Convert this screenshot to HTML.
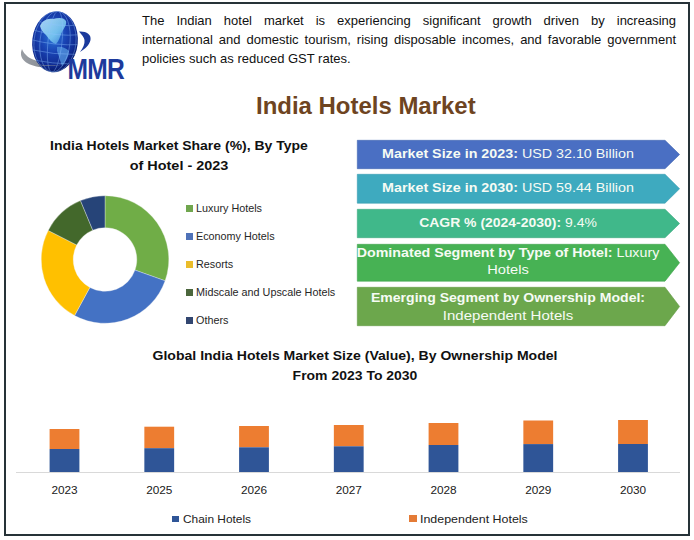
<!DOCTYPE html>
<html><head><meta charset="utf-8">
<style>
html,body{margin:0;padding:0;background:#fff;}
body{width:694px;height:540px;position:relative;overflow:hidden;font-family:"Liberation Sans",sans-serif;}
.frame{position:absolute;left:4px;top:2px;width:682px;height:530px;border:2px solid #263238;}
.t{position:absolute;white-space:nowrap;transform-origin:0 0;line-height:1;}
.c{position:absolute;white-space:nowrap;line-height:1;text-align:center;width:0;}
.c>span{display:inline-block;transform-origin:50% 0;margin-left:-500px;margin-right:-500px;width:1000px;}
.desc{position:absolute;left:142px;width:534px;font-size:13px;line-height:1;color:#111;white-space:nowrap;}
.j{text-align:justify;text-align-last:justify;white-space:normal;}
.box{position:absolute;left:357px;width:323px;}
.box svg{position:absolute;left:0;top:0;}
.bt{color:#f6fbf4;}
.leg{font-size:10.8px;color:#262626;}
.sq{position:absolute;width:7px;height:7px;}
.yr{font-size:11.8px;color:#1a1a1a;}
</style></head><body>
<div class="frame"></div>

<!-- logo -->
<svg style="position:absolute;left:0;top:0" width="140" height="90" viewBox="0 0 140 90">
  <defs>
    <radialGradient id="gl" cx="0.45" cy="0.4" r="0.62">
      <stop offset="0" stop-color="#2f7ddc"/>
      <stop offset="0.45" stop-color="#1a44b4"/>
      <stop offset="0.8" stop-color="#112c92"/>
      <stop offset="1" stop-color="#081862"/>
    </radialGradient>
    <linearGradient id="land" x1="0" y1="0" x2="1" y2="1">
      <stop offset="0" stop-color="#c6f1ff"/>
      <stop offset="0.6" stop-color="#7fcdf2"/>
      <stop offset="1" stop-color="#3f86d8"/>
    </linearGradient>
    <linearGradient id="sw" x1="0" y1="0" x2="1" y2="0">
      <stop offset="0" stop-color="#9a9ea4"/>
      <stop offset="1" stop-color="#7b8088"/>
    </linearGradient>
    <clipPath id="gc"><ellipse cx="55" cy="41.7" rx="22.8" ry="30.6" transform="rotate(6 55 41.7)"/></clipPath>
  </defs>
  <path d="M22 49 C18 58 26 66 42 67.2 C50 67.6 58 66.6 64 65.4 C54 64.6 42 63.2 33 59.6 C27 57 23.5 53 22 49 Z" fill="url(#sw)"/>
  <ellipse cx="55" cy="41.7" rx="22.8" ry="30.6" transform="rotate(6 55 41.7)" fill="url(#gl)"/>
  <g clip-path="url(#gc)">
    <path d="M40 26 C42 21 47 18 53 19 C58 18 63 17 66 21 C67 25 64 28 62 32 C60 36 59 41 56 44 C52 43 49 39 46 35 C43 32 41 30 40 26 Z" fill="url(#land)" opacity="0.85"/>
    <path d="M57 47 C61 46 66 48 69 51 C69 56 66 61 62 66 C60 61 59 56 57 51 Z" fill="#5aa0e6" opacity="0.7"/>
    <g stroke="#8ec2ff" stroke-width="0.7" fill="none" opacity="0.55" transform="rotate(6 55 41.7)">
      <ellipse cx="55" cy="41.7" rx="7" ry="30.6"/>
      <ellipse cx="55" cy="41.7" rx="15" ry="30.6"/>
      <ellipse cx="55" cy="41.7" rx="21" ry="30.6"/>
      <path d="M30 22 Q55 28 80 22 M30 32 Q55 37 80 32 M30 42 Q55 46 80 42 M30 52 Q55 55 80 52 M30 62 Q55 64 80 62"/>
    </g>
  </g>
  <path d="M36 64 C46 67 56 66 63 64.5 C56 65.5 46 66 36 64 Z" fill="#8a8e94"/>
  <path d="M79 31.5 C86 31 91.5 34 90.5 40 C89.5 45 85 49 80 52 C83 48 85 44 84.5 40 C84 37 82 35 79 31.5 Z" fill="#1b3a9c"/>
  <text x="0" y="0" font-family="Liberation Sans" font-weight="bold" font-size="30" fill="#1d3a9c" letter-spacing="-1" transform="translate(67.6 78.9) scale(0.82 1)">MMR</text>
</svg>

<!-- description -->
<div class="desc j" style="top:14px">The Indian hotel market is experiencing significant growth driven by increasing</div>
<div class="desc j" style="top:33px">international and domestic tourism, rising disposable incomes, and favorable government</div>
<div class="desc" style="top:52px">policies such as reduced GST rates.</div>

<!-- main title -->
<div class="t" style="left:256.4px;top:93.6px;font-size:24px;font-weight:bold;color:#6e4421;transform:scaleX(0.998)">India Hotels Market</div>

<!-- chart 1 title -->
<div class="c" style="left:178.7px;top:138.5px;font-size:13.5px;font-weight:bold;color:#111"><span style="transform:scaleX(1.036)">India Hotels Market Share (%), By Type</span></div>
<div class="c" style="left:178.7px;top:158.6px;font-size:13.5px;font-weight:bold;color:#111"><span style="transform:scaleX(1.07)">of Hotel - 2023</span></div>

<!-- donut -->
<svg style="position:absolute;left:0;top:0" width="200" height="340" viewBox="0 0 200 340" id="donut">
<path d="M105.00 195.70 A63.8 63.8 0 0 1 165.14 280.80 L134.98 270.12 A31.8 31.8 0 0 0 105.00 227.70 Z" fill="#70ad47" stroke="#f4f4f4" stroke-width="0.35"/>
<path d="M165.14 280.80 A63.8 63.8 0 0 1 74.56 315.57 L89.83 287.45 A31.8 31.8 0 0 0 134.98 270.12 Z" fill="#4472c4" stroke="#f4f4f4" stroke-width="0.35"/>
<path d="M74.56 315.57 A63.8 63.8 0 0 1 48.20 230.44 L76.69 245.01 A31.8 31.8 0 0 0 89.83 287.45 Z" fill="#ffc000" stroke="#f4f4f4" stroke-width="0.35"/>
<path d="M48.20 230.44 A63.8 63.8 0 0 1 80.48 200.60 L92.78 230.14 A31.8 31.8 0 0 0 76.69 245.01 Z" fill="#43682b" stroke="#f4f4f4" stroke-width="0.35"/>
<path d="M80.48 200.60 A63.8 63.8 0 0 1 105.00 195.70 L105.00 227.70 A31.8 31.8 0 0 0 92.78 230.14 Z" fill="#264478" stroke="#f4f4f4" stroke-width="0.35"/>
</svg>

<!-- legend -->
<div class="sq" style="left:186px;top:205px;background:#70a64e"></div>
<div class="t leg" style="left:196px;top:203px">Luxury Hotels</div>
<div class="sq" style="left:186px;top:233px;background:#4f72b8"></div>
<div class="t leg" style="left:196px;top:231px">Economy Hotels</div>
<div class="sq" style="left:186px;top:261px;background:#ebbd2a"></div>
<div class="t leg" style="left:196px;top:259px">Resorts</div>
<div class="sq" style="left:186px;top:289px;background:#4b663c"></div>
<div class="t leg" style="left:196px;top:287px">Midscale and Upscale Hotels</div>
<div class="sq" style="left:186px;top:317px;background:#324670"></div>
<div class="t leg" style="left:196px;top:315px">Others</div>

<!-- arrow boxes -->
<svg style="position:absolute;left:0;top:0" width="694" height="340" viewBox="0 0 694 340">
  <path d="M357.3 140.3 H665 L679.6 154.5 L665 168.7 H357.3 Z" fill="#4a6fc3" stroke="#4264b0" stroke-width="0.6"/>
  <path d="M357.3 174.3 H665 L679.6 188.75 L665 203.2 H357.3 Z" fill="#3eaabf" stroke="#379cb0" stroke-width="0.6"/>
  <path d="M357.3 209.3 H665 L679.6 223.5 L665 237.7 H357.3 Z" fill="#40b88a" stroke="#3aa87e" stroke-width="0.6"/>
  <path d="M357.3 244.3 H665 L679.6 262.75 L665 281.2 H357.3 Z" fill="#47b254" stroke="#40a34c" stroke-width="0.6"/>
  <path d="M357.3 287.3 H665 L679.6 306.5 L665 325.7 H357.3 Z" fill="#6ca74c" stroke="#639a45" stroke-width="0.6"/>
</svg>
<div class="c bt" style="left:508px;top:147px;font-size:13.3px"><span style="transform:scaleX(1.075)"><b>Market Size in 2023:</b> USD 32.10 Billion</span></div>
<div class="c bt" style="left:508px;top:181px;font-size:13.3px"><span style="transform:scaleX(1.075)"><b>Market Size in 2030:</b> USD 59.44 Billion</span></div>
<div class="c bt" style="left:508px;top:216px;font-size:13.3px"><span style="transform:scaleX(1.05)"><b>CAGR % (2024-2030):</b> 9.4%</span></div>
<div class="c bt" style="left:508px;top:246px;font-size:13.3px"><span style="transform:scaleX(1.07)"><b>Dominated Segment by Type of Hotel:</b> Luxury</span></div>
<div class="c bt" style="left:508px;top:263px;font-size:13.3px"><span style="transform:scaleX(1.1)">Hotels</span></div>
<div class="c bt" style="left:508px;top:290.7px;font-size:13.3px"><span style="transform:scaleX(1.057)"><b>Emerging Segment by Ownership Model:</b></span></div>
<div class="c bt" style="left:508px;top:308.7px;font-size:13.3px"><span style="transform:scaleX(1.13)">Independent Hotels</span></div>

<!-- bar chart title -->
<div class="c" style="left:355px;top:348.8px;font-size:13.5px;font-weight:bold;color:#111"><span style="transform:scaleX(1.04)">Global India Hotels Market Size (Value), By Ownership Model</span></div>
<div class="c" style="left:355px;top:369.4px;font-size:13.5px;font-weight:bold;color:#111"><span style="transform:scaleX(1.035)">From 2023 To 2030</span></div>

<!-- bars -->
<svg style="position:absolute;left:0;top:0" width="694" height="540" viewBox="0 0 694 540">
  <line x1="16" y1="472.5" x2="680" y2="472.5" stroke="#d9d9d9" stroke-width="1"/>
  <rect x="49.60" y="429" width="29.8" height="20.00" fill="#ed7d31"/><rect x="49.60" y="449" width="29.8" height="23.00" fill="#2f5597"/>
  <rect x="144.35" y="426.7" width="29.8" height="21.50" fill="#ed7d31"/><rect x="144.35" y="448.2" width="29.8" height="23.80" fill="#2f5597"/>
  <rect x="239.10" y="426" width="29.8" height="21.30" fill="#ed7d31"/><rect x="239.10" y="447.3" width="29.8" height="24.70" fill="#2f5597"/>
  <rect x="333.85" y="425" width="29.8" height="21.30" fill="#ed7d31"/><rect x="333.85" y="446.3" width="29.8" height="25.70" fill="#2f5597"/>
  <rect x="428.60" y="423" width="29.8" height="22.00" fill="#ed7d31"/><rect x="428.60" y="445" width="29.8" height="27.00" fill="#2f5597"/>
  <rect x="523.35" y="420.5" width="29.8" height="23.60" fill="#ed7d31"/><rect x="523.35" y="444.1" width="29.8" height="27.90" fill="#2f5597"/>
  <rect x="618.10" y="420" width="29.8" height="24.00" fill="#ed7d31"/><rect x="618.10" y="444" width="29.8" height="28.00" fill="#2f5597"/>
</svg>
<div class="c yr" style="left:64.50px;top:485px"><span>2023</span></div>
<div class="c yr" style="left:159.25px;top:485px"><span>2025</span></div>
<div class="c yr" style="left:254.00px;top:485px"><span>2026</span></div>
<div class="c yr" style="left:348.75px;top:485px"><span>2027</span></div>
<div class="c yr" style="left:443.50px;top:485px"><span>2028</span></div>
<div class="c yr" style="left:538.25px;top:485px"><span>2029</span></div>
<div class="c yr" style="left:633.00px;top:485px"><span>2030</span></div>

<!-- bar legend -->
<div class="sq" style="left:172px;top:515.6px;width:6.6px;height:6.2px;background:#2f5597"></div>
<div class="t" style="left:182.6px;top:514.3px;font-size:11px;color:#222;transform:scaleX(1.08)">Chain Hotels</div>
<div class="sq" style="left:409px;top:515.2px;width:7.5px;height:6.6px;background:#e47b36"></div>
<div class="t" style="left:419.8px;top:514.3px;font-size:11px;color:#222;transform:scaleX(1.13)">Independent Hotels</div>
</body></html>
